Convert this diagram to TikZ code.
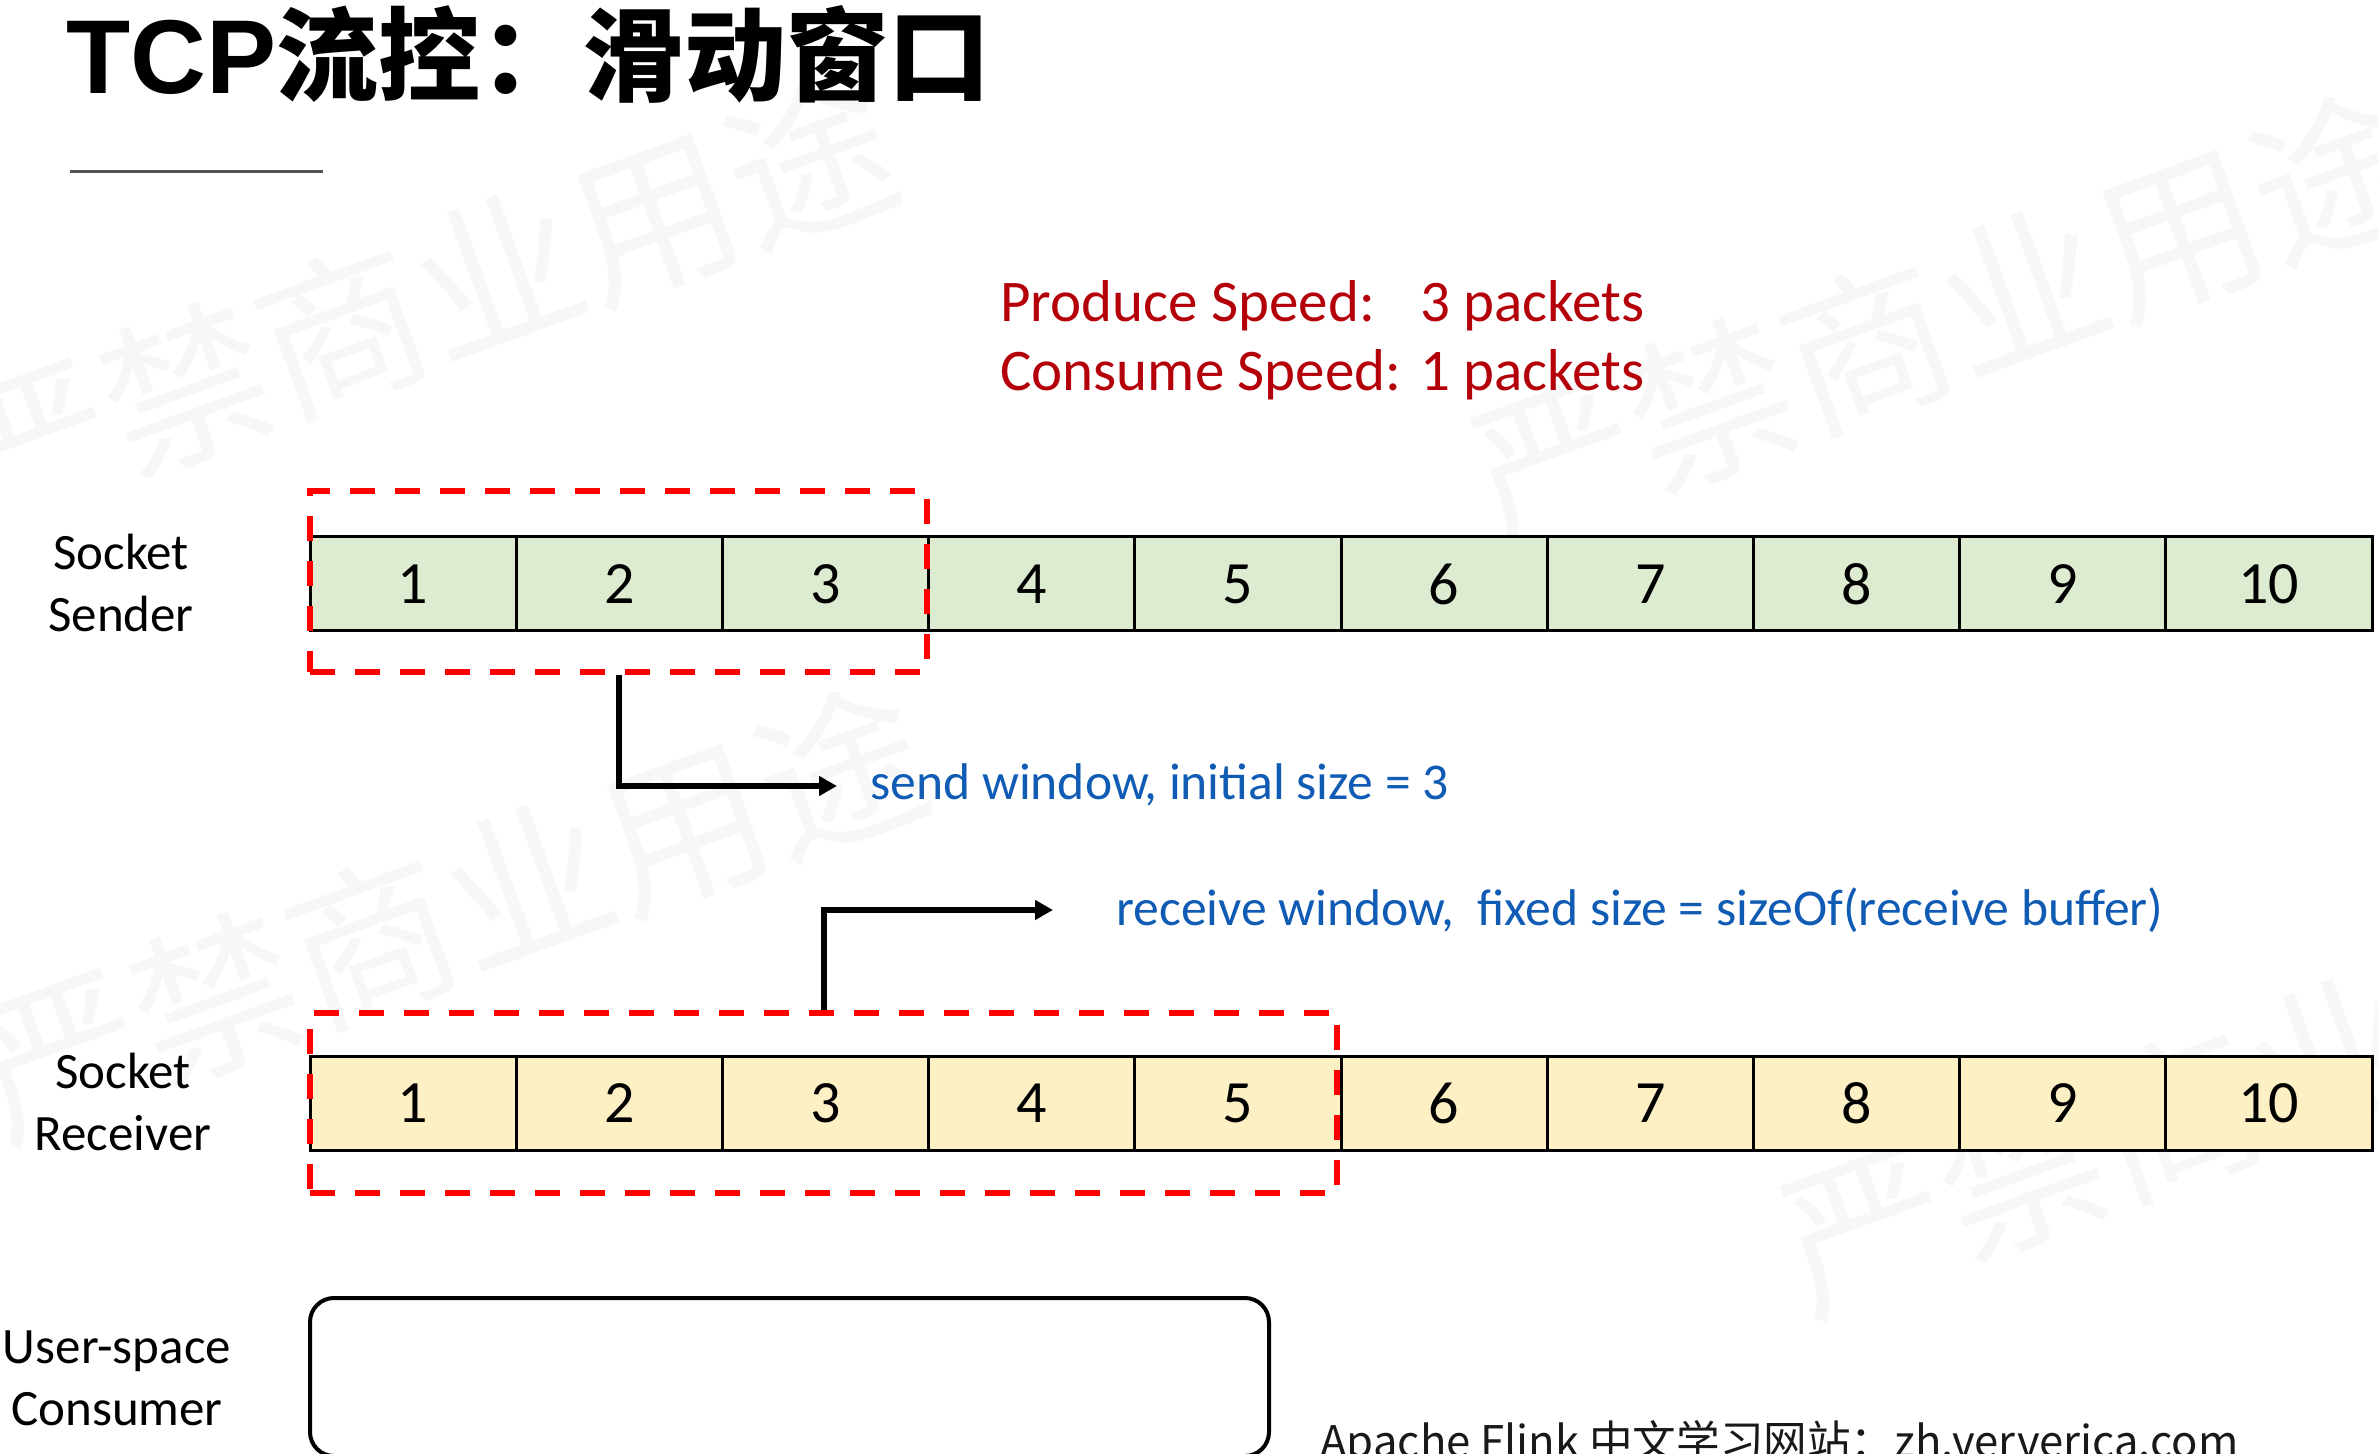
\documentclass[tikz,border=0pt]{standalone}
\usepackage{fontspec}
\setmainfont{Carlito}
\newfontfamily\cjk{Noto Sans CJK SC}
\newfontfamily\helv{Liberation Sans}
\usetikzlibrary{arrows.meta}

\definecolor{cellgreen}{RGB}{221,235,208}
\definecolor{cellyellow}{RGB}{253,240,196}
\definecolor{winred}{RGB}{255,0,0}
\definecolor{speedred}{RGB}{180,0,8}
\definecolor{noteblue}{RGB}{16,92,180}
\definecolor{rulegray}{RGB}{85,85,85}

\tikzset{
  cell/.style={draw=black, line width=1.5pt, minimum width=103.1pt,
    minimum height=47pt, inner sep=0pt, font=\fontsize{30}{36}\selectfont},
  sendcell/.style={cell, fill=cellgreen},
  recvcell/.style={cell, fill=cellyellow},
  window/.style={draw=winred, line width=3pt, dash pattern=on 12.5pt off 10pt,
    inner sep=0pt},
  flow/.style={draw=black, line width=3pt, -{Triangle[length=9pt,width=9.5pt]}},
  sidelabel/.style={align=center, inner sep=0pt, font=\fontsize{25.5}{31}\selectfont},
  note/.style={text=noteblue, inner sep=0pt, anchor=base west,
    font=\fontsize{25.8}{31}\selectfont},
  speed/.style={text=speedred, inner sep=0pt, anchor=base west,
    font=\fontsize{29.5}{35}\selectfont},
  wmark/.style={text=black!3, inner sep=0pt, rotate=20,
    font=\cjk\fontsize{83}{90}\selectfont},
}

\begin{document}
\begin{tikzpicture}[x=0.5pt, y=-0.5pt]
\useasboundingbox (0,0) rectangle (2378,1454);
\clip (0,0) rectangle (2378,1454);

% faint background stamp
\node[wmark] (wm1) at (420,302)  {严禁商业用途};
\node[wmark] (wm2) at (1945,318) {严禁商业用途};
\node[wmark] (wm3) at (450,912)  {严禁商业用途};
\node[wmark] (wm4) at (2255,1086) {严禁商业用途};

% heading
\node[anchor=base west, inner sep=0pt, font=\fontsize{52.5}{60}\selectfont\bfseries]
  (title) at (66,94) {\helv TCP\cjk\fontsize{51}{60}\selectfont 流控：滑动窗口};
\draw[rulegray, line width=1.5pt] (70,172) -- (323,172);

% rates
\node[speed] (prod)  at (1000,322) {Produce Speed:};
\node[speed] (prodv) at (1420,322) {3 packets};
\node[speed] (cons)  at (1000,391) {Consume Speed:};
\node[speed] (consv) at (1420,391) {1 packets};

% buffers
\foreach \i in {1,...,10} {
  \node[sendcell] (s\i) at ({310+(\i-0.5)*206.2},584) {\i};
  \node[recvcell] (r\i) at ({310+(\i-0.5)*206.2},1103) {\i};
}

% windows
\node[window, minimum width=308.5pt, minimum height=90.5pt] (sendwin) at (618.5,581.5) {};
\node[window, minimum width=513.5pt, minimum height=90pt] (recvwin) at (823.5,1103) {};

% window annotations
\node[note] (sendnote) at (870,799) {send window, initial size = 3};
\node[note] (recvnote) at (1116,925) {receive window,\ \ fixed size = sizeOf(receive buffer)};
\coordinate (sendend) at (837,786);
\coordinate (recvend) at (1053,910);
\draw[flow] (sendwin.south) |- (sendend);
\draw[flow] (recvwin.north) |- (recvend);

% consumer
\node[draw, line width=2pt, rounded corners=12pt, minimum width=479.5pt,
  minimum height=79pt] (consumer) at (789.5,1377) {};

% row labels (anchored at the baseline of their last line)
\node[sidelabel, anchor=base] (sender)    at (121,632)  {Socket\\Sender};
\node[sidelabel, anchor=base] (receiver)  at (123,1150) {Socket\\Receiver};
\node[sidelabel, anchor=base] (userspace) at (117,1425) {User-space\\Consumer};

% footer
\node[anchor=base west, inner sep=0pt, text=black!90,
  font=\cjk\fontsize{21.8}{26}\selectfont] (footer) at (1320,1457)
  {Apache Flink 中文学习网站：zh.ververica.com};
\end{tikzpicture}
\end{document}
